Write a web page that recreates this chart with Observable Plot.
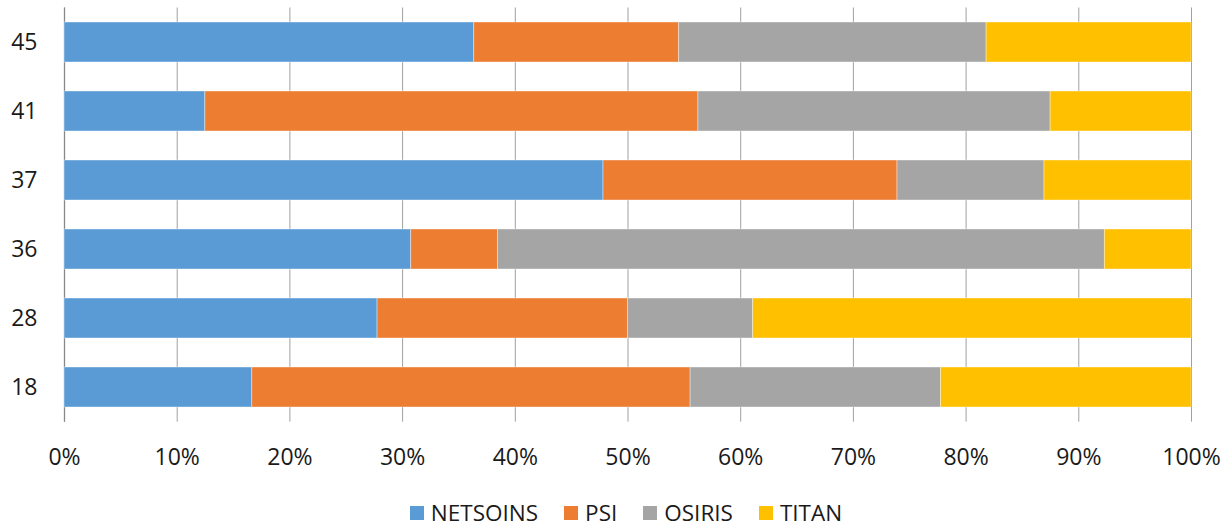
<!DOCTYPE html>
<html>
<head>
<meta charset="utf-8">
<script src="https://cdn.jsdelivr.net/npm/d3@7"></script>
<script src="https://cdn.jsdelivr.net/npm/@observablehq/plot@0.6"></script>
<style>
  html, body { margin: 0; padding: 0; background: #fff; }
  #wrap { width: 1232px; }
  .legend { display: flex; justify-content: center; align-items: center; height: 49px; padding-top: 16px; padding-left: 20px;
    box-sizing: border-box;
    font-family: "Open Sans", "Liberation Sans", sans-serif; font-size: 22.5px; color: #1a1a1a; }
  .item { display: flex; align-items: center; margin: 0 13px; }
  .sw { width: 14px; height: 14px; margin-right: 7px; }
</style>
</head>
<body>
<div id="wrap"></div>
<script>
const categories = ["45", "41", "37", "36", "28", "18"];
const seriesNames = ["NETSOINS", "PSI", "OSIRIS", "TITAN"];
const seriesColors = ["#5B9BD5", "#ED7D31", "#A5A5A5", "#FFC000"];
const netsoins = [4, 2, 11, 4, 5, 3];
const psi      = [2, 7, 6, 1, 4, 7];
const osiris   = [3, 5, 3, 7, 2, 4];
const titan    = [2, 2, 3, 1, 7, 4];
const xTicks = [0, 0.1, 0.2, 0.3, 0.4, 0.5, 0.6, 0.7, 0.8, 0.9, 1];

const seriesValues = [netsoins, psi, osiris, titan];
const data = [];
seriesNames.forEach((s, i) => {
  categories.forEach((c, j) => data.push({cat: c, series: s, value: seriesValues[i][j]}));
});

const font = "'Open Sans', 'Liberation Sans', sans-serif";

const chart = Plot.plot({
  width: 1232,
  height: 480,
  marginLeft: 64,
  marginRight: 41,
  marginTop: 7.5,
  marginBottom: 58.3,
  style: {fontFamily: font, fontSize: "23px", color: "#1a1a1a", background: "#fff"},
  x: {domain: [0, 1], ticks: xTicks, tickFormat: d3.format(".0%"), label: null},
  y: {domain: categories, paddingInner: 0.42, paddingOuter: 0.21, label: null},
  color: {domain: seriesNames, range: seriesColors},
  marks: [
    Plot.gridX(xTicks, {stroke: "#a0a0a0", strokeOpacity: 1, strokeWidth: 1}),
    Plot.ruleX([0], {stroke: "#888", strokeWidth: 1.3}),
    Plot.barX(data, Plot.stackX({offset: "normalize", x: "value", y: "cat", fill: "series",
      order: seriesNames, stroke: "#fff", strokeWidth: 0.7, strokeOpacity: 0.55})),
    Plot.axisX(xTicks, {tickSize: 0, tickPadding: 26.5, tickFormat: d3.format(".0%"), fontSize: 23, label: null}),
    Plot.axisY({tickSize: 0, tickPadding: 27, fontSize: 23, label: null})
  ]
});

const wrap = document.getElementById("wrap");
wrap.appendChild(chart);

const legend = document.createElement("div");
legend.className = "legend";
seriesNames.forEach((s, i) => {
  const it = document.createElement("div");
  it.className = "item";
  const sw = document.createElement("div");
  sw.className = "sw";
  sw.style.background = seriesColors[i];
  const t = document.createElement("span");
  t.textContent = s;
  it.appendChild(sw);
  it.appendChild(t);
  legend.appendChild(it);
});
wrap.appendChild(legend);
</script>
</body>
</html>
